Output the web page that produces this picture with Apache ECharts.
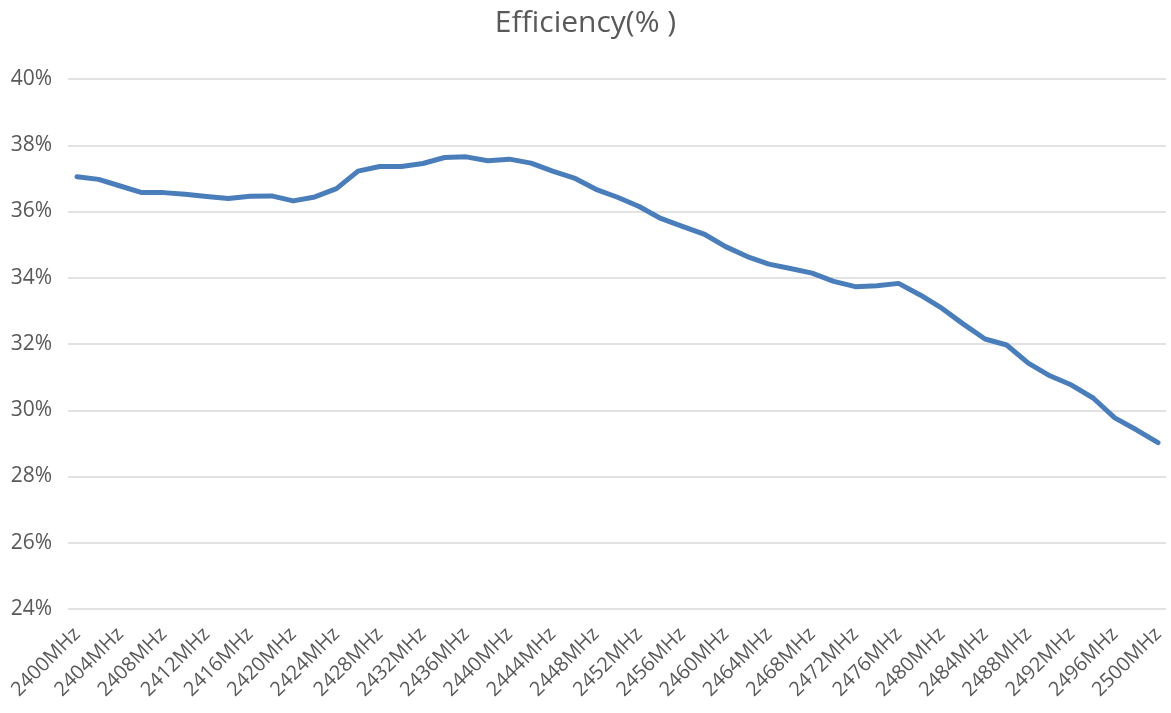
<!DOCTYPE html>
<html>
<head>
<meta charset="utf-8">
<script src="https://cdn.jsdelivr.net/npm/echarts@6/dist/echarts.min.js"></script>
<style>html,body{margin:0;padding:0;background:#fff;}#c{width:1171px;height:713px;}</style>
</head>
<body>
<div id="c"></div>
<script>
const frequencies = [2400,2402,2404,2406,2408,2410,2412,2414,2416,2418,2420,2422,2424,2426,2428,2430,2432,2434,2436,2438,2440,2442,2444,2446,2448,2450,2452,2454,2456,2458,2460,2462,2464,2466,2468,2470,2472,2474,2476,2478,2480,2482,2484,2486,2488,2490,2492,2494,2496,2498,2500];
const categories = frequencies.map(f => f + 'MHz');
const efficiency = [37.05,36.97,36.77,36.57,36.57,36.52,36.45,36.39,36.46,36.47,36.32,36.44,36.69,37.22,37.36,37.36,37.45,37.63,37.65,37.53,37.58,37.46,37.22,37.01,36.67,36.43,36.15,35.79,35.55,35.32,34.94,34.64,34.41,34.28,34.14,33.89,33.73,33.76,33.83,33.48,33.08,32.60,32.15,31.97,31.42,31.04,30.76,30.37,29.77,29.41,29.02];
const yMin = 24, yMax = 40, yStep = 2;

const chart = echarts.init(document.getElementById('c'), null, {renderer: 'canvas'});
const font = 'Open Sans';
const txt = '#595959';
chart.setOption({
  animation: false,
  backgroundColor: '#ffffff',
  title: {
    text: 'Efficiency(% )',
    left: 'center',
    top: 3,
    textStyle: {fontFamily: font, fontSize: 30, fontWeight: 'normal', color: txt}
  },
  grid: [
    {left: 68, right: 5, top: 79, bottom: 104, containLabel: false},
    {left: 77, right: 13, top: 79, bottom: 104, containLabel: false}
  ],
  xAxis: [
    {gridIndex: 0, type: 'category', data: categories, show: false},
    {
      gridIndex: 1,
      type: 'category',
      data: categories,
      boundaryGap: false,
      axisLine: {show: false},
      axisTick: {show: false},
      axisLabel: {interval: 1, rotate: 45, margin: 22, fontFamily: font, fontSize: 20, color: txt},
      splitLine: {show: false}
    }
  ],
  yAxis: [
    {
      gridIndex: 0,
      type: 'value',
      min: yMin, max: yMax, interval: yStep,
      axisLine: {show: false},
      axisTick: {show: false},
      axisLabel: {formatter: '{value}%', margin: 16, fontFamily: font, fontSize: 21, color: txt},
      splitLine: {lineStyle: {color: '#d9d9d9', width: 1.5}}
    },
    {
      gridIndex: 1,
      type: 'value',
      min: yMin, max: yMax, interval: yStep,
      show: false,
      splitLine: {show: false}
    }
  ],
  series: [{
    type: 'line',
    xAxisIndex: 1,
    yAxisIndex: 1,
    data: efficiency,
    showSymbol: false,
    symbol: 'none',
    lineStyle: {color: '#4a7ebb', width: 5, join: 'round', cap: 'round'}
  }]
});
</script>
</body>
</html>
